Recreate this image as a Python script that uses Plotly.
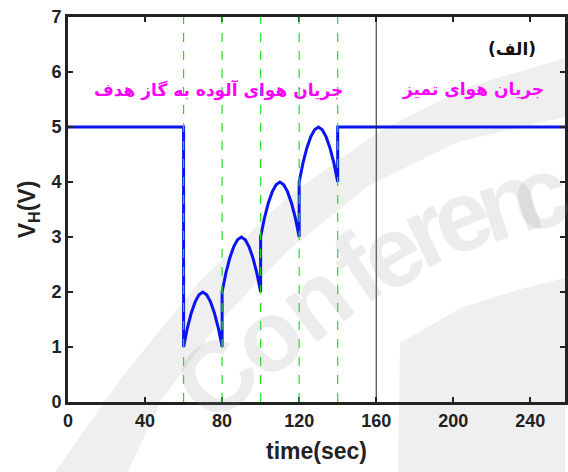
import plotly.graph_objects as go

# data
t_vals = [0, 60, 60, 62, 64, 66, 68, 70, 72, 74, 76, 78, 80,
          80, 82, 84, 86, 88, 90, 92, 94, 96, 98, 100,
          100, 102, 104, 106, 108, 110, 112, 114, 116, 118, 120,
          120, 122, 124, 126, 128, 130, 132, 134, 136, 138, 140,
          140, 258]
v_vals = [5, 5, 1.0, 1.35, 1.62, 1.82, 1.95, 2.0, 1.95, 1.82, 1.62, 1.35, 1.0,
          2.0, 2.35, 2.62, 2.82, 2.95, 3.0, 2.95, 2.82, 2.62, 2.35, 2.0,
          3.0, 3.35, 3.62, 3.82, 3.95, 4.0, 3.95, 3.82, 3.62, 3.35, 3.0,
          4.0, 4.35, 4.62, 4.82, 4.95, 5.0, 4.95, 4.82, 4.62, 4.35, 4.0,
          5, 5]
green_lines = [60, 80, 100, 120, 140]
black_line = 160
x_ticks = [0, 40, 80, 120, 160, 200, 240]
y_ticks = [0, 1, 2, 3, 4, 5, 6, 7]
label_polluted = "جریان هوای آلوده به گاز هدف"
label_clean = "جریان هوای تمیز"
label_panel = "(الف)"

# ---- watermark geometry (pixel positions in the 568x472 picture) ----
L, R, T, B = 68, 0, 17, 70
W, H = 568, 472
PW, PH = W - L - R, H - T - B


def px(x, y):
    return (x - L) / PW, (H - B - y) / PH


def path_from(points):
    pts = [px(x, y) for x, y in points]
    s = "M %.4f %.4f " % pts[0]
    for p in pts[1:]:
        s += "L %.4f %.4f " % p
    return s + "Z"


band = [(55, 472), (120, 380), (200, 282), (290, 196), (380, 132), (470, 87), (568, 58),
        (568, 117), (460, 142), (370, 186), (290, 250), (220, 322), (162, 400), (128, 472)]
corner = [(400, 472), (402, 343), (463, 308), (520, 290), (568, 278), (568, 472)]
letters = [("C", 217, 377, -42), ("o", 268, 337, -40), ("n", 316, 300, -37),
           ("f", 360, 268, -34), ("e", 393, 252, -30), ("r", 428, 230, -26),
           ("e", 463, 216, -22), ("n", 510, 201, -18), ("c", 543, 193, -14)]

fig = go.Figure()

for poly in (band, corner):
    fig.add_shape(type="path", path=path_from(poly), xref="paper", yref="paper",
                  fillcolor="#efefef", line=dict(width=0), layer="below")

fig.add_trace(go.Scatter(x=t_vals, y=v_vals, mode="lines",
                         line=dict(color="#0a14f0", width=3), showlegend=False))

for g in green_lines:
    fig.add_shape(type="line", x0=g, x1=g, y0=0, y1=7, xref="x", yref="y",
                  line=dict(color="#22dd22", width=1.2, dash="dash"))
fig.add_shape(type="line", x0=black_line, x1=black_line, y0=0, y1=7, xref="x", yref="y",
              line=dict(color="#222222", width=1))

for ch, lx, ly, ang in letters:
    xp, yp = px(lx, ly)
    fig.add_annotation(x=xp, y=yp, xref="paper", yref="paper", text="<b>" + ch + "</b>",
                       showarrow=False, textangle=ang, xanchor="center", yanchor="middle",
                       font=dict(family="Liberation Sans", size=100, color="rgba(140,140,140,0.17)"))

fig.add_annotation(x=144, y=5.68, text="<b>" + label_polluted + "</b>", showarrow=False, xanchor="right",
                   font=dict(family="DejaVu Sans", size=17, color="#ff00ff"))
fig.add_annotation(x=248, y=5.68, text="<b>" + label_clean + "</b>", showarrow=False, xanchor="right",
                   font=dict(family="DejaVu Sans", size=17, color="#ff00ff"))
fig.add_annotation(x=244, y=6.42, text="<b>" + label_panel + "</b>", showarrow=False, xanchor="right",
                   font=dict(family="DejaVu Sans", size=17, color="#111111"))

fig.update_layout(
    width=W, height=H,
    margin=dict(l=L, r=R, t=T, b=B),
    paper_bgcolor="white", plot_bgcolor="rgba(0,0,0,0)",
    font=dict(family="Liberation Sans", color="#222222"),
    xaxis=dict(range=[0, 258], tickvals=x_ticks, ticktext=["<b>%d</b>" % v for v in x_ticks],
               ticks="inside", ticklen=5, tickwidth=2,
               tickcolor="#222222", showline=True, linewidth=3, linecolor="#222222",
               mirror="allticks", showgrid=False, zeroline=False,
               tickfont=dict(size=18, family="Liberation Sans", color="#222222", weight="bold"),
               title=dict(text="<b>time(sec)</b>", font=dict(size=23), standoff=14)),
    yaxis=dict(range=[0, 7], tickvals=y_ticks, ticktext=["<b>%d</b>" % v for v in y_ticks],
               ticks="inside", ticklen=5, tickwidth=2,
               tickcolor="#222222", showline=True, linewidth=3, linecolor="#222222",
               mirror="allticks", showgrid=False, zeroline=False,
               tickfont=dict(size=18, family="Liberation Sans", color="#222222", weight="bold"),
               title=dict(text="<b>V<sub>H</sub>(V)</b>", font=dict(size=23), standoff=10)),
)

fig.write_html("out.html")
